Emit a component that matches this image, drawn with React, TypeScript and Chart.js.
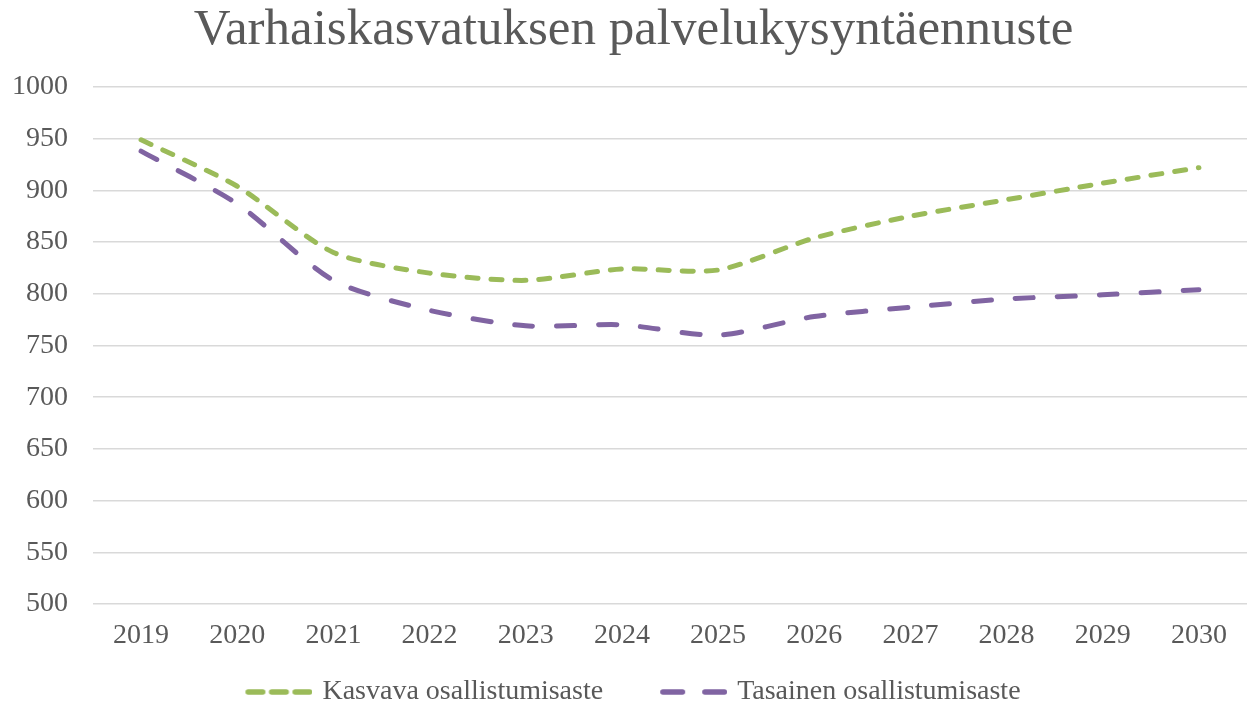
import React, { useEffect, useRef } from "react";
import { Chart, registerables } from "chart.js";

Chart.register(...registerables);

const TITLE = "Varhaiskasvatuksen palvelukysyntäennuste";
const years = ["2019", "2020", "2021", "2022", "2023", "2024", "2025", "2026", "2027", "2028", "2029", "2030"];
const kasvava = [949, 904, 840, 820, 813, 824, 823, 854, 875, 891, 907, 922];
const tasainen = [938, 887, 813, 784, 769, 770, 760, 778, 787, 795, 799, 804];
const seriesNames = ["Kasvava osallistumisaste", "Tasainen osallistumisaste"];
const yMin = 500;
const yMax = 1000;
const yStep = 50;

const FONT = "'Liberation Serif', serif";
const TEXT = "#595959";
const GREEN = "#9BBB59";
const PURPLE = "#8064A2";
const LEAD = 51;

function legendSample(color: string, dashes: number, dashLen: number, gap: number) {
  const total = dashes * dashLen + (dashes - 1) * gap;
  const c = document.createElement("canvas");
  c.width = Math.round(LEAD + total);
  c.height = 10;
  const ctx = c.getContext("2d")!;
  ctx.strokeStyle = color;
  ctx.lineWidth = 5.5;
  ctx.lineCap = "round";
  for (let i = 0; i < dashes; i++) {
    const x0 = LEAD + i * (dashLen + gap);
    ctx.beginPath();
    ctx.moveTo(x0 + 2.75, 5);
    ctx.lineTo(x0 + dashLen - 2.75, 5);
    ctx.stroke();
  }
  return c;
}

const shiftPlugin = {
  id: "shiftBlocks",
  afterLayout(chart: any) {
    if (chart.titleBlock) {
      chart.titleBlock.left += 20;
    }
    if (chart.legend) {
      chart.legend.left -= 14;
      chart.legend.right -= 14;
    }
  },
};

export default function App() {
  const ref = useRef<HTMLCanvasElement | null>(null);
  useEffect(() => {
    if (!ref.current) return;
    const samples = [legendSample(GREEN, 3, 20, 3.5), legendSample(PURPLE, 2, 25, 17)];
    const chart = new Chart(ref.current, {
      type: "line",
      data: {
        labels: years,
        datasets: [
          {
            label: seriesNames[0],
            data: kasvava,
            borderColor: GREEN,
            backgroundColor: GREEN,
            borderWidth: 5,
            borderDash: [11, 13],
            borderCapStyle: "round",
            pointRadius: 0,
            tension: 0.25,
          },
          {
            label: seriesNames[1],
            data: tasainen,
            borderColor: PURPLE,
            backgroundColor: PURPLE,
            borderWidth: 5,
            borderDash: [18, 24],
            borderCapStyle: "round",
            pointRadius: 0,
            tension: 0.25,
          },
        ],
      },
      plugins: [shiftPlugin],
      options: {
        responsive: false,
        animation: false,
        layout: { padding: { left: 0, right: 9, top: 0, bottom: -11 } },
        plugins: {
          title: {
            display: true,
            text: TITLE,
            color: TEXT,
            font: { family: FONT, size: 51, weight: "normal" },
            padding: { top: 0, bottom: 25.8 },
          },
          legend: {
            position: "bottom",
            labels: {
              usePointStyle: true,
              pointStyleWidth: samples[0].width - 8,
              color: TEXT,
              font: { family: FONT, size: 28 },
              padding: 10,
              generateLabels: (ch: any) => {
                const items = Chart.defaults.plugins.legend.labels.generateLabels(ch);
                return items.map((it: any, i: number) => ({ ...it, pointStyle: samples[i] }));
              },
            },
          },
          tooltip: { enabled: false },
        },
        scales: {
          x: {
            offset: true,
            grid: { display: false, drawTicks: false },
            border: { display: false },
            ticks: { color: TEXT, font: { family: FONT, size: 28 }, padding: 15.2 },
          },
          y: {
            min: yMin,
            max: yMax,
            afterFit: (s: any) => {
              s.width = 93;
            },
            grid: { color: "#d9d9d9", lineWidth: 1.5, drawTicks: false },
            border: { display: false },
            ticks: {
              stepSize: yStep,
              color: TEXT,
              font: { family: FONT, size: 28 },
              padding: 25,
              callback: (v: any) => String(v),
            },
          },
        },
      },
    });
    return () => chart.destroy();
  }, []);
  return (
    <div style={{ position: "fixed", left: 0, top: 0, width: 1256, height: 705, background: "#fff" }}>
      <canvas ref={ref} width={1256} height={705} />
    </div>
  );
}
